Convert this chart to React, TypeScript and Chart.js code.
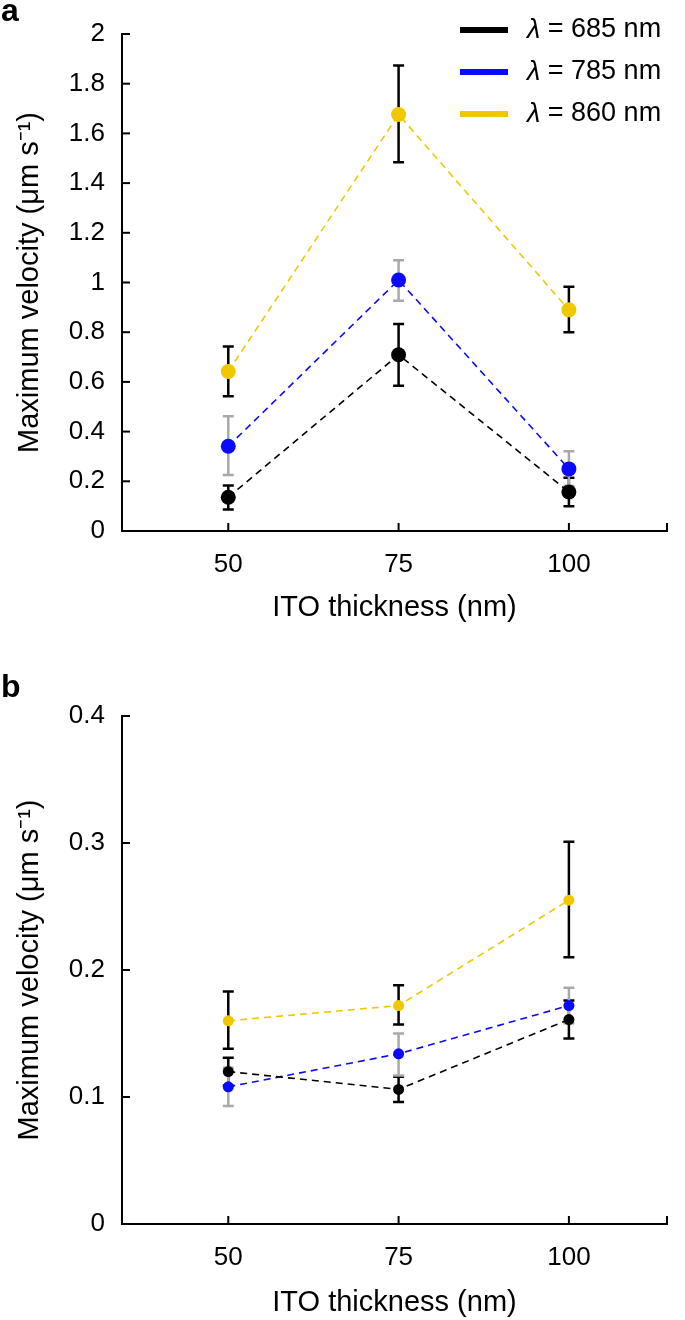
import React, { useEffect, useRef } from 'react';
import { Chart, registerables } from 'chart.js';

Chart.register(...registerables);

// ---------- data ----------
const thickness = [50, 75, 100];
const xTickValues = [50, 75, 100];
const xMin = 34.4;
const xMax = 114.4;

const seriesLabels = ['685', '785', '860'];
const lineColors = ['#000000', '#0a0aff', '#f0c800'];
const errorColors = ['#000000', '#a9a9a9', '#000000'];

// panel a
const a685 = [0.136, 0.709, 0.157];
const a685Low = [0.087, 0.585, 0.1];
const a685High = [0.183, 0.833, 0.214];
const a785 = [0.341, 1.01, 0.25];
const a785Low = [0.225, 0.927, 0.181];
const a785High = [0.462, 1.09, 0.321];
const a860 = [0.642, 1.676, 0.89];
const a860Low = [0.542, 1.484, 0.8];
const a860High = [0.742, 1.873, 0.983];
const yTicksA = [0, 0.2, 0.4, 0.6, 0.8, 1, 1.2, 1.4, 1.6, 1.8, 2];

// panel b
const b685 = [0.12, 0.106, 0.161];
const b685Low = [0.109, 0.096, 0.146];
const b685High = [0.131, 0.116, 0.176];
const b785 = [0.108, 0.134, 0.172];
const b785Low = [0.093, 0.117, 0.158];
const b785High = [0.123, 0.15, 0.186];
const b860 = [0.16, 0.172, 0.255];
const b860Low = [0.138, 0.157, 0.21];
const b860High = [0.183, 0.188, 0.301];
const yTicksB = [0, 0.1, 0.2, 0.3, 0.4];

const FONT = '"Liberation Sans", Arial, Helvetica, sans-serif';

type PanelSpec = {
  letter: string;
  letterBaseline: number;
  height: number;
  padTop: number;
  xAxisHeight: number;
  xTitlePadBottom: number;
  yMax: number;
  yTicks: number[];
  values: number[][];
  lows: number[][];
  highs: number[][];
  radius: number;
  capHalf: number;
  showLegend: boolean;
};

const panelA: PanelSpec = {
  letter: 'a',
  letterBaseline: 21,
  height: 650,
  padTop: 34,
  xAxisHeight: 119,
  xTitlePadBottom: 25,
  yMax: 2,
  yTicks: yTicksA,
  values: [a685, a785, a860],
  lows: [a685Low, a785Low, a860Low],
  highs: [a685High, a785High, a860High],
  radius: 7.5,
  capHalf: 5.5,
  showLegend: true,
};

const panelB: PanelSpec = {
  letter: 'b',
  letterBaseline: 47,
  height: 670,
  padTop: 66,
  xAxisHeight: 96,
  xTitlePadBottom: 0,
  yMax: 0.4,
  yTicks: yTicksB,
  values: [b685, b785, b860],
  lows: [b685Low, b785Low, b860Low],
  highs: [b685High, b785High, b860High],
  radius: 5.5,
  capHalf: 5.5,
  showLegend: false,
};

const errorBarPlugin = {
  id: 'errorBars',
  beforeDatasetsDraw(chart: any) {
    const ctx = chart.ctx;
    const xs = chart.scales.x;
    const ys = chart.scales.y;
    const capHalf = chart.options.plugins.errorBars.capHalf;
    chart.data.datasets.forEach((ds: any) => {
      ctx.save();
      ctx.strokeStyle = ds.errColor;
      ctx.lineWidth = 2.5;
      ctx.setLineDash([]);
      ds.data.forEach((p: any, j: number) => {
        const x = xs.getPixelForValue(p.x);
        const y1 = ys.getPixelForValue(ds.errLow[j]);
        const y2 = ys.getPixelForValue(ds.errHigh[j]);
        ctx.beginPath();
        ctx.moveTo(x, y1);
        ctx.lineTo(x, y2);
        ctx.moveTo(x - capHalf, y1);
        ctx.lineTo(x + capHalf, y1);
        ctx.moveTo(x - capHalf, y2);
        ctx.lineTo(x + capHalf, y2);
        ctx.stroke();
      });
      ctx.restore();
    });
  },
};

const decorPlugin = {
  id: 'decor',
  afterDraw(chart: any) {
    const ctx = chart.ctx;
    const opts = chart.options.plugins.decor;
    const area = chart.chartArea;
    const xs = chart.scales.x;
    const ys = chart.scales.y;
    ctx.save();
    ctx.strokeStyle = '#000';
    ctx.lineWidth = 2;
    ctx.setLineDash([]);
    // inward ticks
    xs.ticks.forEach((t: any) => {
      const x = xs.getPixelForValue(t.value);
      ctx.beginPath();
      ctx.moveTo(x, area.bottom);
      ctx.lineTo(x, area.bottom - 8);
      ctx.stroke();
    });
    ys.ticks.forEach((t: any) => {
      const y = ys.getPixelForValue(t.value);
      ctx.beginPath();
      ctx.moveTo(area.left, y);
      ctx.lineTo(area.left + 8, y);
      ctx.stroke();
    });
    // panel letter
    ctx.fillStyle = '#000';
    ctx.font = `bold 32px ${FONT}`;
    ctx.textBaseline = 'alphabetic';
    ctx.textAlign = 'left';
    ctx.fillText(opts.letter, 1, opts.letterBaseline);
    // legend
    if (opts.showLegend) {
      chart.data.datasets.forEach((ds: any, i: number) => {
        const yc = 30 + 42 * i;
        ctx.fillStyle = ds.borderColor;
        ctx.fillRect(460, yc - 3, 48, 6);
        ctx.fillStyle = '#000';
        ctx.textBaseline = 'middle';
        ctx.font = `italic 27px ${FONT}`;
        ctx.fillText('\u03bb', 527, yc);
        const w = ctx.measureText('\u03bb').width;
        ctx.font = `27px ${FONT}`;
        ctx.fillText(' = ' + ds.label + ' nm', 527 + w, yc);
      });
    }
    ctx.restore();
  },
};

function Panel({ spec }: { spec: PanelSpec }) {
  const ref = useRef<HTMLCanvasElement>(null);
  useEffect(() => {
    if (!ref.current) return;
    const datasets = spec.values.map((vals, i) => ({
      label: seriesLabels[i],
      data: thickness.map((x, j) => ({ x, y: vals[j] })),
      errLow: spec.lows[i],
      errHigh: spec.highs[i],
      errColor: errorColors[i],
      borderColor: lineColors[i],
      backgroundColor: lineColors[i],
      borderWidth: 1.6,
      borderDash: [7, 5],
      pointRadius: spec.radius,
      pointBorderWidth: 0,
      pointBackgroundColor: lineColors[i],
      pointHoverRadius: spec.radius,
      tension: 0,
      fill: false,
    }));
    const chart = new Chart(ref.current, {
      type: 'line',
      data: { datasets },
      plugins: [errorBarPlugin, decorPlugin],
      options: {
        responsive: false,
        animation: false,
        events: [],
        layout: { padding: { left: 0, right: 9, top: spec.padTop, bottom: 0 } },
        plugins: {
          legend: { display: false },
          tooltip: { enabled: false },
          errorBars: { capHalf: spec.capHalf },
          decor: { letter: spec.letter, letterBaseline: spec.letterBaseline, showLegend: spec.showLegend },
        } as any,
        scales: {
          x: {
            type: 'linear',
            min: xMin,
            max: xMax,
            afterBuildTicks: (s: any) => {
              s.ticks = [...xTickValues, xMax].map((v) => ({ value: v }));
            },
            afterFit: (s: any) => {
              s.height = spec.xAxisHeight;
            },
            ticks: {
              callback: (v: any) => (xTickValues.includes(v) ? String(v) : ''),
              font: { size: 26, family: FONT },
              color: '#000',
              padding: 18,
              maxRotation: 0,
              autoSkip: false,
            },
            grid: { display: false, drawTicks: false },
            border: { display: true, color: '#000', width: 2 },
            title: {
              display: true,
              text: 'ITO thickness (nm)',
              color: '#000',
              font: { size: 29, family: FONT },
              padding: { top: 0, bottom: spec.xTitlePadBottom },
            },
          },
          y: {
            type: 'linear',
            min: 0,
            max: spec.yMax,
            afterBuildTicks: (s: any) => {
              s.ticks = spec.yTicks.map((v) => ({ value: v }));
            },
            afterFit: (s: any) => {
              s.width = 122;
            },
            ticks: {
              callback: (v: any) => String(Math.round(v * 10) / 10),
              font: { size: 26, family: FONT },
              color: '#000',
              padding: 17,
              autoSkip: false,
            },
            grid: { display: false, drawTicks: false },
            border: { display: true, color: '#000', width: 2 },
            title: {
              display: true,
              text: 'Maximum velocity (\u03bcm s\u207b\u00b9)',
              color: '#000',
              font: { size: 29, family: FONT },
              padding: { top: 13, bottom: 0 },
            },
          },
        },
      } as any,
    });
    return () => chart.destroy();
  }, [spec]);
  return (
    <canvas
      ref={ref}
      width={685}
      height={spec.height}
      style={{ display: 'block', width: 685, height: spec.height }}
    />
  );
}

export default function App() {
  return (
    <div style={{ position: 'absolute', left: 0, top: 0, width: 685, height: 1320, background: '#fff' }}>
      <Panel spec={panelA} />
      <Panel spec={panelB} />
    </div>
  );
}
